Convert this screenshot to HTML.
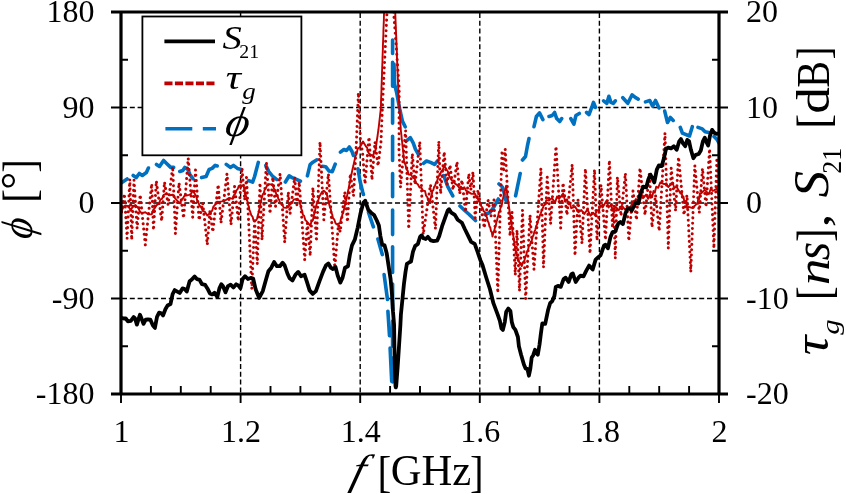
<!DOCTYPE html><html><head><meta charset="utf-8"><title>chart</title><style>html,body{margin:0;padding:0;background:#fff}svg{display:block}text{font-family:"Liberation Serif","DejaVu Serif",serif;fill:#000}</style></head><body>
<svg width="846" height="494" viewBox="0 0 846 494">
<rect width="846" height="494" fill="#fff"/>
<path d="M240.6 13V394M360.2 13V394M479.8 13V394M599.4 13V394M122 107.5H719M122 203.0H719M122 298.5H719" stroke="#000" stroke-width="1.4" stroke-dasharray="5 2.8" fill="none"/>
<clipPath id="c"><rect x="121" y="12" width="598" height="382"/></clipPath><g clip-path="url(#c)" fill="none" stroke-linejoin="round">
<path d="M121.1 183.0L127.1 179.0M133.2 175.5L136.2 177.6L139.3 173.5L142.3 175.5L146.4 172.5L148.4 168.0M156.5 164.4L159.5 166.4L163.6 160.4L166.6 163.4L170.7 167.4L173.7 167.4M179.8 171.5L182.8 170.5L184.8 167.4L187.9 169.5L189.9 174.5L192.9 178.6M201.6 177.6L206.1 176.5L209.1 169.5L212.1 168.4L215.2 165.4L217.2 166.0M226.3 164.4L230.3 167.4L233.4 165.4L237.4 168.4L241.5 169.5M248.6 180.6L252.6 182.2L254.6 176.5L258.3 162.4M265.8 165.4L268.8 171.5L272.8 176.5L276.9 179.6M285.4 182.0L289.2 175.8L292.3 177.8L295.3 178.8L300.4 181.2M307.4 175.8L310.1 164.6L312.9 162.2L316.9 159.8M322.2 166.3L325.7 166.7L329.1 171.1L332.3 171.7L335.2 164.2M340.4 152.1L343.9 149.5L346.5 150.5L349.3 147.0L352.0 151.5L353.4 155.5M358.0 168.7L360.0 181.0L362.7 192.0L363.4 194.5M368.5 212.3L373.4 226.8M377.9 239.0L382.3 254.6M384.1 274.6L387.5 299.5M387.9 311.2L389.5 335.7M390.1 348.0L391.7 381.3M392.6 40.0L392.6 53.5M392.6 62.4L392.6 86.3M392.6 99.0L392.6 123.3M392.6 136.3L392.6 160.4M392.6 173.5L392.6 196.8M392.6 210.0L392.6 234.6M392.6 246.8L392.6 272.4M392.6 284.0L392.6 309.0M392.6 321.0L392.6 346.0M392.6 358.0L392.6 382.0M394.0 64.0L394.6 84.3L396.7 92.8L399.6 108.4L402.4 121.1L405.2 126.8M407.3 140.1L410.3 137.7L413.3 143.2L415.4 149.2L418.4 154.3M423.5 163.4L426.5 161.0L430.5 162.4L434.6 164.4L438.0 160.4M443.7 175.5L447.8 186.7L452.8 195.8M460.0 206.0L464.7 210.5L469.2 214.5L475.5 220.5M485.0 214.5L490.0 212.5L494.5 206.0L498.3 199.0M499.0 184.0L502.4 187.0L504.5 194.0L506.0 200.5M515.6 195.8L520.2 173.5M522.5 160.0L525.5 156.5L527.5 145.5L529.0 138.6M534.0 126.7L536.4 116.5L539.5 112.9L542.9 119.6M549.0 116.5L552.2 115.5L554.6 112.5L556.7 118.6L559.7 121.6L561.7 118.6M570.8 118.6L573.9 124.2L575.9 115.5L579.3 113.5M586.6 112.5L589.0 114.5L592.1 106.4L593.5 102.4L595.5 107.4M603.6 100.8L606.8 103.4L608.9 96.3L610.9 102.4L613.3 103.4L615.3 100.8M622.8 97.7L627.8 103.3L632.1 94.8L635.6 97.7L638.2 99.1M645.5 101.9L649.8 100.5L652.6 106.2L655.5 100.5L659.0 108.0M664.7 111.1L667.5 122.5L670.4 117.5L673.2 120.4M680.3 127.4L682.4 133.1L689.5 136.0L692.3 126.7M698.0 127.4L702.3 128.9L705.1 131.7L708.7 132.4M714.0 136.5L717.0 139.5L719.5 144.0" stroke="#0070c0" stroke-width="3.6" stroke-linecap="round"/>
<path d="M121.6 212.0L124.4 193.7L127.1 238.5L129.8 179.2L131.7 240.0L134.0 180.0L137.1 228.4L140.2 194.7L145.3 245.0L151.7 183.7L153.5 230.2L156.3 181.0L161.7 221.0L164.5 181.9L168.1 204.7L172.7 166.5L175.4 233.8L179.0 182.8L183.6 218.3L188.2 158.2L192.7 217.4L195.5 170.0L199.1 220.2L202.7 202.9L207.3 244.7L210.0 210.0L212.8 232.0L218.2 184.6L221.0 222.9L227.0 173.7L231.0 224.7L234.6 186.4L238.3 221.0L241.9 167.8L244.7 200.0L246.5 177.3L251.8 289.0L254.6 221.0L257.3 264.0L260.0 182.8L262.0 240.0L266.4 162.8L270.0 213.8L272.8 177.3L275.5 206.5L280.1 173.7L284.7 242.5L288.3 192.0L290.1 213.8L294.7 177.3L296.9 204.7L299.2 181.9L304.7 260.0L307.4 223.0L310.2 256.0L312.9 187.4L316.5 241.5L320.0 142.0L323.8 219.8L328.4 173.7L334.8 268.0L338.4 224.7L340.2 232.0L344.8 192.0L347.5 222.0L350.3 173.7L353.5 196.0L356.3 145.0L358.4 92.8L360.5 142.0L362.5 152.0L365.0 184.0L369.0 137.0L372.0 180.0L375.0 142.0L378.0 166.0L381.0 142.0L382.3 110.0L387.0 12.0M393.6 12.0L396.5 50.0L399.2 89.0L399.0 150.0L400.5 187.4L405.6 130.5L408.7 229.0L412.3 153.7L415.0 184.7L419.8 141.8L423.2 234.6L430.5 184.7L435.5 229.0L438.8 141.2L440.6 193.8L444.2 151.9L446.9 184.7L450.0 165.0L453.0 190.0L457.0 161.9L459.7 193.8L462.0 180.0L465.5 212.0L468.8 173.7L470.8 190.0L473.0 171.9L475.2 218.0L478.0 190.0L484.3 228.0L488.0 200.0L491.0 216.0L494.0 200.0L497.8 293.0L502.0 150.5L503.5 172.0L505.2 149.0L510.0 236.0L512.0 212.0L515.3 275.0L517.0 230.0L519.5 291.0L522.5 210.0L525.7 299.0L530.0 215.0L534.0 269.5L540.9 168.5L543.5 267.5L547.2 177.0L550.6 224.0L556.0 146.3L560.7 228.0L563.0 182.8L567.0 215.0L572.2 164.5L575.0 255.7L578.0 200.0L582.0 243.5L585.4 168.6L590.0 253.6L594.5 169.6L597.0 240.5L601.0 185.0L605.5 240.0L609.4 160.3L612.5 228.0L613.8 205.0L615.3 258.5L617.4 177.0L621.0 216.0L625.4 173.2L628.8 241.0L633.0 190.9L636.5 220.0L640.0 168.0L645.0 215.0L649.5 172.7L652.0 227.3L655.5 195.0L659.2 231.0L665.0 133.0L668.3 248.3L671.2 168.0L675.6 211.0L678.5 157.0L684.0 215.0L687.0 195.0L690.8 272.0L694.8 165.5L699.3 212.8L702.5 168.4L706.0 207.0L709.6 148.8L713.9 248.3L716.8 160.3L719.0 215.0" stroke="#c00000" stroke-width="3.0" stroke-linecap="round" stroke-dasharray="0.1 5.2"/>
<path d="M118.9 212.0L121.6 210.7L123.5 207.0L125.3 205.5L128.0 206.1L130.8 210.0L133.0 206.3L135.3 205.0L138.0 207.6L139.9 211.4L141.7 213.1L145.3 212.3L148.1 214.3L151.7 214.4L153.1 210.1L154.4 208.7L156.7 205.1L159.0 203.7L160.5 199.4L162.0 198.8L163.6 194.9L166.3 193.9L169.9 195.2L172.7 194.7L173.9 195.3L175.1 198.4L176.3 199.7L180.0 203.4L181.3 199.6L182.7 198.8L184.5 195.7L186.3 195.5L189.1 194.9L190.9 194.0L192.7 190.6L195.5 195.0L196.4 196.9L197.3 201.0L198.2 202.2L199.7 205.9L201.2 206.9L202.7 210.8L205.0 211.9L207.3 215.6L210.9 212.0L212.2 210.7L213.4 206.6L214.6 205.4L216.9 201.8L219.1 201.9L221.9 201.4L225.5 200.3L229.2 197.9L232.8 198.9L234.0 195.0L235.2 193.9L236.5 190.3L237.6 189.2L238.8 185.9L240.0 185.5L243.6 185.7L244.3 189.2L245.0 191.9L245.7 194.7L246.4 197.4L247.0 200.6L247.6 201.6L248.2 205.7L248.8 206.0L249.4 210.2L250.0 211.1L251.2 215.1L252.5 216.6L253.7 221.0L256.4 220.0L257.1 218.3L257.8 215.6L258.5 212.9L259.1 210.1L259.7 207.6L260.2 205.0L260.8 202.5L261.3 199.9L261.9 197.4L262.8 194.2L263.7 193.3L264.6 190.0L265.5 188.9L267.3 185.0L269.2 184.1L272.8 184.9L274.0 189.0L275.2 190.0L276.4 194.7L277.4 195.0L278.3 198.8L279.2 199.9L280.1 203.5L281.9 203.7L283.7 207.6L286.5 207.9L288.3 207.0L290.1 204.2L291.9 202.9L293.8 199.4L296.5 199.1L299.2 200.5L300.0 203.9L300.7 205.5L301.4 209.3L302.1 210.5L302.9 214.9L304.1 215.7L305.3 220.0L306.5 221.2L310.2 225.6L311.5 221.6L312.9 220.3L313.5 216.8L314.1 214.4L314.7 212.0L315.3 209.5L315.9 207.1L316.5 204.7L317.5 201.4L318.4 200.0L319.3 196.8L320.2 195.1L322.0 191.9L323.8 190.7L326.6 193.4L327.3 196.5L327.9 199.2L328.6 201.9L329.3 204.7L330.0 207.6L330.8 208.8L331.5 213.1L332.2 214.4L332.9 218.0L334.2 219.3L335.4 222.9L336.6 224.3L340.2 223.0L341.0 218.5L341.7 217.9L342.4 214.2L343.2 212.9L343.9 209.7L344.4 207.8L344.9 205.5L345.4 203.1L346.0 200.8L346.5 198.4L347.0 196.1L347.5 193.7L348.0 191.1L348.6 188.5L349.1 185.9L349.6 183.3L350.1 180.7L350.7 178.1L351.2 175.5L351.7 173.2L352.2 170.8L352.7 168.5L353.3 166.1L353.8 163.8L354.3 161.5L354.8 159.1L355.7 155.6L356.6 154.0L357.6 148.9L360.0 147.0L363.0 141.5L366.0 146.5L367.1 147.6L368.1 152.0L369.2 153.8L373.0 156.1L374.2 152.4L375.5 150.4L375.9 147.5L376.2 145.0L376.6 142.5L376.9 140.0L377.3 137.5L377.7 135.0L378.0 132.5L378.4 130.0L378.7 127.4L379.0 124.8L379.3 122.1L379.6 119.5L379.9 116.9L380.2 114.2L380.5 111.6L380.8 109.0L380.9 106.6L381.0 104.2L381.0 101.7L381.1 99.3L381.2 96.9L381.3 94.5L381.4 92.0L381.5 89.6L381.5 87.2L381.6 84.8L381.7 82.3L381.8 79.9L381.9 77.5L382.0 75.1L382.0 72.6L382.1 70.2L382.2 67.8L382.3 65.3L382.4 62.9L382.5 60.5L382.5 58.1L382.6 55.6L382.7 53.2L382.8 50.8L382.9 48.4L382.9 45.9L383.0 43.5L383.1 41.1L383.2 38.7L383.3 36.2L383.4 33.8L383.4 31.4L383.5 29.0L383.6 26.5L383.7 24.1L383.8 21.7L383.9 19.3L383.9 16.9L384.0 14.4L384.1 12.0M395.2 12.0L395.3 14.4L395.4 16.9L395.5 19.3L395.6 21.8L395.7 24.2L395.8 26.6L395.9 29.1L396.0 31.5L396.1 34.0L396.2 36.4L396.3 38.9L396.4 41.3L396.5 43.7L396.6 46.2L396.7 48.6L396.8 51.1L396.9 53.5L396.9 55.9L397.0 58.4L397.1 60.8L397.2 63.3L397.3 65.7L397.4 68.1L397.5 70.6L397.6 73.0L397.7 75.5L397.8 77.9L397.9 80.4L398.0 82.8L398.1 85.2L398.2 87.7L398.3 90.1L398.4 92.6L398.5 95.0L398.7 97.5L398.9 100.0L399.1 102.5L399.3 105.0L399.5 107.5L399.7 110.0L399.8 112.5L400.0 115.0L400.1 117.5L400.2 120.0L400.4 122.5L400.5 125.0L400.7 127.5L400.8 130.0L401.1 132.5L401.4 135.0L401.6 137.5L401.9 140.0L402.2 142.5L402.4 145.0L402.7 147.5L403.0 150.0L403.3 152.6L403.5 155.1L403.8 157.7L404.0 160.2L404.3 162.8L405.4 164.6L406.5 169.3L407.6 170.5L408.7 174.6L410.9 174.7L413.2 177.8L414.7 178.8L416.3 183.3L417.8 184.2L419.6 187.6L421.4 187.7L423.2 190.9L425.0 190.9L426.1 195.7L427.2 197.0L428.4 200.9L429.5 202.3L430.2 200.8L430.9 197.0L431.7 195.3L432.4 191.1L433.3 190.1L434.2 186.7L435.1 185.8L436.0 182.6L437.2 180.7L438.5 176.5L439.7 175.2L441.2 171.5L442.7 170.3L444.2 165.6L447.0 170.3L447.9 171.5L448.8 175.2L449.7 177.0L451.5 180.1L453.3 180.5L455.1 183.7L457.0 184.9L460.6 189.3L464.3 187.3L466.1 190.7L467.9 191.6L471.5 193.9L475.2 193.9L476.4 197.7L477.6 198.5L478.8 201.4L480.0 202.5L481.3 206.3L482.5 207.6L483.7 211.4L484.8 211.8L486.0 215.9L486.9 217.2L487.8 221.2L488.6 222.5L489.5 226.5L490.2 227.3L491.0 231.1L491.8 232.2L492.5 236.5L493.4 232.2L494.3 230.5L495.2 226.6L495.8 225.4L496.4 222.1L497.0 220.5L497.7 217.3L498.3 215.7L498.9 212.2L499.8 211.1L500.6 207.4L501.5 206.6L502.1 203.2L502.6 200.4L503.2 197.6L503.7 194.8L504.3 192.0L505.2 189.6L506.2 185.6L506.6 189.2L506.9 191.9L507.3 194.6L507.6 197.3L508.0 200.0L508.4 202.5L508.7 205.0L509.1 207.5L509.4 210.0L509.8 212.5L510.2 215.0L510.5 217.5L510.9 220.0L511.2 222.5L511.6 225.0L512.0 227.4L512.3 229.8L512.7 232.3L513.1 234.7L513.5 237.1L513.8 239.5L514.2 241.9L514.6 244.4L514.9 246.8L515.3 249.2L516.0 251.4L516.7 255.3L517.5 255.9L518.2 260.3L518.9 261.5L521.7 266.1L523.0 262.2L524.4 260.7L525.3 256.8L526.2 255.3L527.1 251.4L528.0 250.3L528.9 245.8L529.9 245.4L530.8 241.8L531.7 241.1L532.6 236.7L533.5 235.2L534.4 231.6L535.3 229.8L536.2 225.8L537.1 224.4L538.1 220.5L539.0 218.9L539.9 215.3L540.8 213.6L541.7 210.2L542.6 208.6L543.8 205.5L545.1 204.6L546.3 200.1L549.0 200.6L552.0 198.1L555.0 202.8L557.0 196.6L559.0 199.0L563.1 193.6L565.1 201.0L567.1 199.3L568.5 204.4L569.8 202.2L571.2 208.2L575.2 206.8L578.3 212.2L581.3 210.1L584.3 214.0L587.4 209.5L590.4 215.7L593.4 212.8L595.1 215.5L596.8 210.0L598.5 210.9L600.5 205.2L602.6 207.5L606.6 200.6L608.6 207.5L610.7 205.0L613.2 210.6L615.7 206.9L618.7 210.2L621.8 205.7L624.8 209.4L627.9 209.0L629.9 209.1L631.9 203.9L633.9 205.4L635.9 199.0L640.0 201.0L642.0 194.8L644.0 197.0L646.1 194.6L648.1 198.8L650.1 194.0L652.1 197.2L653.5 191.0L654.8 192.7L656.2 186.7L658.2 187.8L660.2 182.5L664.3 184.1L666.3 183.3L668.3 187.1L672.4 182.5L674.4 188.0L676.4 186.5L680.5 193.6L681.5 191.5L682.5 197.5L683.5 196.6L684.5 203.1L685.9 201.3L687.2 208.4L688.6 206.9L692.6 208.0L696.7 203.9L697.5 203.9L698.3 197.8L699.1 199.1L699.9 193.3L700.7 193.7L704.8 189.9L708.8 194.2L710.8 188.7L712.8 191.0L716.9 188.7L719.0 196.4" stroke="#c00000" stroke-width="1.9"/>
<path d="M121.5 317.9L123.7 318.5L125.8 318.5L127.9 321.3L130.8 320.8L133.6 317.1L135.0 318.2L136.9 324.6L138.6 318.9L140.0 314.7L141.4 318.2L143.5 323.9L145.7 319.6L147.8 319.4L150.3 319.6L152.8 325.3L154.9 327.9L157.0 316.8L159.1 312.6L161.3 313.3L163.1 315.4L165.5 309.0L167.6 305.5L170.5 304.0L172.6 294.1L174.7 290.1L176.9 291.3L179.7 293.0L182.5 288.4L184.7 289.1L186.8 291.6L189.6 281.3L191.8 279.6L194.6 276.4L197.1 279.2L199.6 279.9L202.0 284.2L205.2 284.9L207.4 288.4L209.9 293.4L212.3 294.4L214.5 292.7L217.3 297.0L219.4 288.4L221.3 284.2L223.0 286.3L225.5 292.4L227.9 286.3L228.0 286.1L230.6 284.7L233.4 287.5L236.2 284.3L238.2 285.4L240.5 288.2L242.6 279.0L245.0 276.2L247.9 279.0L250.7 278.0L253.2 278.6L255.7 289.6L259.2 297.9L262.8 291.1L265.6 281.1L268.4 271.2L271.3 267.7L274.1 262.0L276.9 266.2L279.8 266.2L282.6 262.7L284.7 265.5L287.6 274.0L289.7 278.3L292.5 280.4L295.4 274.8L298.2 271.9L301.0 276.2L304.6 274.8L306.7 281.1L309.6 290.4L312.8 293.9L315.9 291.1L319.5 281.1L323.0 271.9L325.9 265.5L328.4 263.4L330.8 267.7L333.0 269.1L335.5 267.0L337.9 276.2L340.3 282.6L342.6 277.6L345.0 267.7L348.0 266.2L349.9 254.6L352.0 245.4L354.8 239.7L357.7 227.6L360.5 213.4L363.3 202.8L365.2 200.7L366.6 204.9L368.3 209.9L371.1 212.7L374.0 214.9L376.8 220.5L378.9 225.5L380.4 236.1L382.2 244.6L384.6 245.4L386.7 253.2L388.6 266.0L390.6 279.1L392.0 294.7L393.0 311.7L394.1 325.0L394.4 346.3L394.9 367.6L395.5 386.0L395.8 387.4L396.2 386.0L397.6 367.6L399.0 346.3L400.4 325.0L400.9 314.6L402.6 297.6L404.0 283.4L405.5 272.0L406.9 263.8L409.0 262.5L411.0 261.5L413.0 251.7L415.1 246.1L417.9 243.9L420.1 236.8L421.5 235.4L423.6 238.3L425.7 239.0L427.9 236.8L430.7 240.4L433.5 241.1L437.1 240.7L439.2 236.1L442.1 226.2L444.9 218.4L447.7 210.6L449.1 209.2L451.3 212.7L454.8 214.9L457.7 219.8L461.9 222.7L464.8 229.0L468.3 236.1L471.1 241.8L474.7 243.9L477.5 251.7L480.4 260.2L482.5 265.1L486.3 277.7L489.9 289.0L493.4 303.2L497.7 314.6L499.8 320.7L501.5 328.5L502.9 329.9L504.8 322.1L506.2 311.7L508.3 308.6L510.4 311.0L511.8 322.1L513.3 327.1L515.4 329.9L517.9 337.0L518.9 346.2L521.1 354.7L523.9 364.6L525.6 368.6L527.4 368.9L528.9 375.7L530.3 368.9L531.7 357.6L533.1 355.4L535.0 349.8L536.4 353.3L537.8 354.7L539.5 344.8L540.9 333.4L542.3 323.5L545.2 323.8L548.0 310.3L550.1 303.2L552.3 301.1L554.4 296.1L555.8 286.9L557.9 285.9L560.8 286.9L563.6 279.1L565.7 277.7L568.6 282.0L571.4 274.1L572.8 273.4L575.7 282.0L578.5 277.7L580.6 275.6L583.5 276.3L586.3 270.6L589.1 265.6L592.7 269.5L595.6 259.6L597.7 257.8L600.5 255.4L604.1 245.4L605.5 244.7L607.9 248.3L610.5 236.9L612.6 232.0L615.4 231.2L618.3 223.4L620.4 222.0L622.9 224.1L625.4 213.5L627.5 208.5L629.6 208.1L631.7 210.7L634.6 205.0L636.0 202.3L638.3 203.5L640.2 194.0L641.9 190.1L643.3 186.7L646.2 187.4L648.3 179.6L650.4 174.6L652.3 178.2L654.3 182.4L656.8 169.6L658.9 165.4L661.8 166.1L663.9 158.3L666.0 149.1L668.2 147.7L671.0 148.4L673.8 146.2L676.7 149.8L679.2 141.3L680.9 139.1L683.0 143.4L685.2 146.2L687.3 139.9L689.1 141.3L690.9 149.8L693.4 158.3L695.8 154.8L698.7 154.0L700.8 150.5L702.9 141.3L704.8 137.7L706.7 142.7L708.2 145.5L710.0 135.6L712.1 129.9L714.3 132.8L716.4 133.9L718.5 133.5" stroke="#000" stroke-width="3.8"/>
</g>
<path d="M121 12V394M719 12V394M111 12H728M111 394H728" stroke="#000" stroke-width="3.2" fill="none"/>
<path d="M111 107.5H121M719 107.5H728M111 203.0H121M719 203.0H728M111 298.5H121M719 298.5H728M121 59.8H128M712 59.8H719M121 155.2H128M712 155.2H719M121 250.8H128M712 250.8H719M121 346.2H128M712 346.2H719M121.0 394V403M150.9 386V394M180.8 386V394M210.7 386V394M240.6 394V403M270.5 386V394M300.4 386V394M330.3 386V394M360.2 394V403M390.1 386V394M420.0 386V394M449.9 386V394M479.8 394V403M509.7 386V394M539.6 386V394M569.5 386V394M599.4 394V403M629.3 386V394M659.2 386V394M689.1 386V394M719.0 394V403" stroke="#000" stroke-width="1.9" fill="none"/>
<text x="94.5" y="22.4" font-size="32" text-anchor="end">180</text>
<text x="94.5" y="117.9" font-size="32" text-anchor="end">90</text>
<text x="94.5" y="213.4" font-size="32" text-anchor="end">0</text>
<text x="94.5" y="308.9" font-size="32" text-anchor="end">-90</text>
<text x="94.5" y="404.4" font-size="32" text-anchor="end">-180</text>
<text x="746" y="22.4" font-size="32">20</text>
<text x="746" y="117.9" font-size="32">10</text>
<text x="746" y="213.4" font-size="32">0</text>
<text x="746" y="308.9" font-size="32">-10</text>
<text x="746" y="404.4" font-size="32">-20</text>
<text x="121.5" y="442.4" font-size="32" text-anchor="middle">1</text>
<text x="241.1" y="442.4" font-size="32" text-anchor="middle">1.2</text>
<text x="360.7" y="442.4" font-size="32" text-anchor="middle">1.4</text>
<text x="480.3" y="442.4" font-size="32" text-anchor="middle">1.6</text>
<text x="599.9" y="442.4" font-size="32" text-anchor="middle">1.8</text>
<text x="719.5" y="442.4" font-size="32" text-anchor="middle">2</text>
<rect x="142.4" y="16.5" width="159" height="138.8" fill="#fff" stroke="#000" stroke-width="1.8"/>
<path d="M164.4 41.4H215" stroke="#000" stroke-width="3.8"/>
<path d="M164.4 83.4H215" stroke="#c00000" stroke-width="3.6" stroke-dasharray="8.1 2.4"/>
<path d="M165.4 128.7H192.3M202.8 128.7H216" stroke="#0070c0" stroke-width="3.6"/>
<text transform="translate(222.61 49.46) scale(1.1321 1)" font-size="34.03" style="font-style:italic">S</text>
<text transform="translate(239.31 57.80) scale(1.0359 1)" font-size="19.09" style="">21</text>
<text transform="translate(225.74 89.46) scale(1.2577 1)" font-size="33.76" style="font-style:italic">τ</text>
<text transform="translate(242.30 99.45) scale(1.1942 1)" font-size="22.63" style="font-style:italic">g</text>
<text transform="translate(223.68 136.02) scale(1.1094 1) skewX(-9)" font-size="41.76" style="font-style:italic">ϕ</text>
<text transform="translate(349.23 484.09) scale(1.0801 1) skewX(-14)" font-size="42.39" style="font-style:italic">f</text>
<text transform="translate(377.60 486.68) scale(0.9124 1)" font-size="45.33" style="">[</text>
<text transform="translate(390.69 484.85) scale(0.9428 1)" font-size="45.22" style="">GHz</text>
<text transform="translate(470.07 486.68) scale(0.9020 1)" font-size="45.33" style="">]</text>
<text transform="translate(34.70 172.73) rotate(-90) scale(0.8627 1)" font-size="47.39" style="">]</text>
<text transform="translate(30.78 189.65) rotate(-90) scale(1.0398 1)" font-size="43.28" style="">°</text>
<text transform="translate(34.70 202.70) rotate(-90) scale(0.8728 1)" font-size="47.39" style="">[</text>
<text transform="translate(31.55 240.00) rotate(-90) scale(0.9100 1) skewX(-9)" font-size="43.96" style="font-style:italic">ϕ</text>
<text transform="translate(829.27 59.55) rotate(-90) scale(0.8243 1)" font-size="46.91" style="">]</text>
<text transform="translate(829.20 87.71) rotate(-90) scale(0.8741 1)" font-size="45.95" style="">B</text>
<text transform="translate(829.13 113.86) rotate(-90) scale(1.1294 1)" font-size="47.09" style="">d</text>
<text transform="translate(829.27 129.11) rotate(-90) scale(0.9690 1)" font-size="46.91" style="">[</text>
<text transform="translate(840.70 173.77) rotate(-90) scale(0.9188 1)" font-size="28.33" style="">21</text>
<text transform="translate(828.40 197.43) rotate(-90) scale(1.0558 1)" font-size="50.45" style="font-style:italic">S</text>
<text transform="translate(829.11 227.53) rotate(-90) scale(1.2719 1)" font-size="43.92" style="">,</text>
<text transform="translate(830.02 241.92) rotate(-90) scale(0.8426 1)" font-size="48.00" style="">]</text>
<text transform="translate(829.10 260.17) rotate(-90) scale(0.9389 1)" font-size="50.21" style="font-style:italic">s</text>
<text transform="translate(829.20 285.28) rotate(-90) scale(1.1513 1)" font-size="46.60" style="font-style:italic">n</text>
<text transform="translate(830.02 300.10) rotate(-90) scale(0.8617 1)" font-size="48.00" style="">[</text>
<text transform="translate(839.40 334.70) rotate(-90) scale(1.2300 1)" font-size="25.26" style="font-style:italic">g</text>
<text transform="translate(828.10 355.17) rotate(-90) scale(1.1030 1)" font-size="49.68" style="font-style:italic">τ</text>
</svg></body></html>
